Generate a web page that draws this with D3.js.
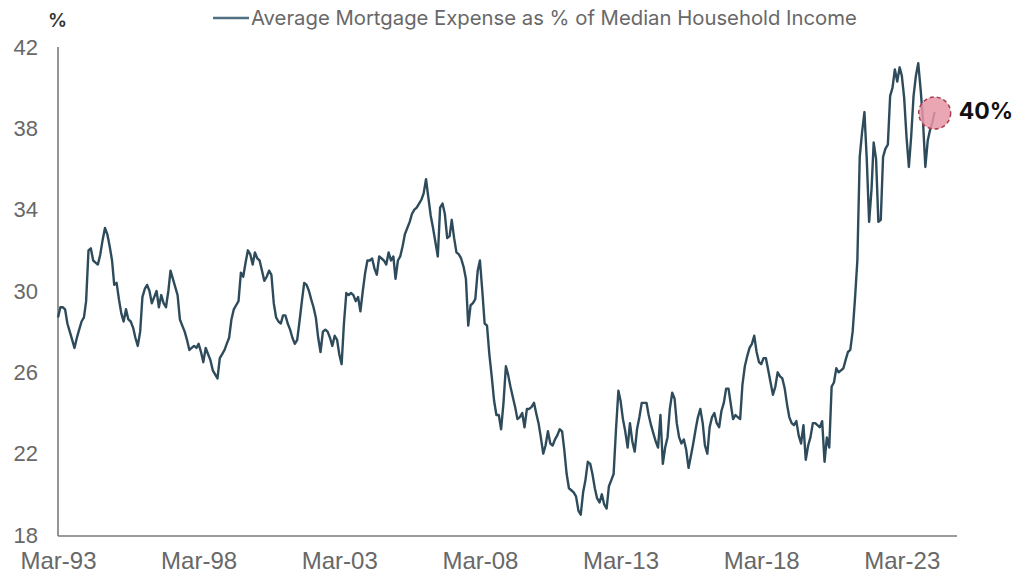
<!DOCTYPE html>
<html>
<head>
<meta charset="utf-8">
<script src="https://cdn.jsdelivr.net/npm/d3@7"></script>
<style>
  html, body { margin: 0; padding: 0; background: #fff; }
  svg { display: block; font-family: Inter, Roboto, "Noto Sans", sans-serif; }
</style>
</head>
<body>
<svg id="chart" width="1013" height="576"></svg>
<script>
// ---- Data (monthly, starting Mar-1993) ----
const seriesName = "Average Mortgage Expense as % of Median Household Income";
const startYear = 1993, startMonth = 2; // March (0-based)
const mortgageShare = [
  // 1993 Mar-Dec
  28.7, 29.2, 29.2, 29.1, 28.4, 28.0, 27.6, 27.2, 27.7, 28.1,
  // 1994
  28.5, 28.7, 29.5, 32.0, 32.1, 31.5, 31.4, 31.3, 31.8, 32.5, 33.1, 32.8,
  // 1995
  32.2, 31.5, 30.3, 30.4, 29.6, 28.9, 28.5, 29.1, 28.6, 28.5, 28.2, 27.7,
  // 1996
  27.3, 28.0, 29.7, 30.1, 30.3, 30.0, 29.4, 29.7, 30.0, 29.2, 29.8, 29.4,
  // 1997
  29.2, 30.0, 31.0, 30.6, 30.2, 29.8, 28.6, 28.3, 28.0, 27.6, 27.1, 27.2,
  // 1998
  27.3, 27.2, 27.4, 27.0, 26.5, 27.2, 26.9, 26.6, 26.1, 25.9, 25.7, 26.7,
  // 1999
  26.9, 27.1, 27.4, 27.7, 28.6, 29.1, 29.3, 29.5, 30.9, 30.7, 31.4, 32.0,
  // 2000
  31.8, 31.3, 31.9, 31.6, 31.5, 31.0, 30.5, 30.7, 31.0, 30.8, 29.4, 28.7,
  // 2001
  28.5, 28.4, 28.8, 28.8, 28.4, 28.1, 27.7, 27.4, 27.6, 28.5, 29.5, 30.4,
  // 2002
  30.3, 30.0, 29.6, 29.2, 28.7, 27.7, 27.0, 28.0, 28.1, 28.0, 27.7, 27.3,
  // 2003
  27.8, 27.6, 26.9, 26.4, 28.4, 29.9, 29.8, 29.9, 29.8, 29.5, 29.7, 29.0,
  // 2004
  30.0, 30.9, 31.5, 31.5, 31.6, 31.1, 30.8, 31.7, 31.6, 31.5, 31.3, 31.9,
  // 2005
  31.5, 31.7, 30.6, 31.5, 31.7, 32.2, 32.8, 33.1, 33.4, 33.8, 34.0, 34.1,
  // 2006
  34.3, 34.5, 34.8, 35.5, 34.6, 33.7, 33.1, 32.4, 31.7, 34.1, 34.3, 33.8,
  // 2007
  32.6, 32.7, 33.5, 32.6, 31.9, 31.8, 31.6, 31.2, 30.6, 28.3, 29.3, 29.4,
  // 2008
  29.6, 31.0, 31.5, 30.0, 28.4, 28.3, 26.9, 25.8, 24.6, 23.9, 23.9, 23.2,
  // 2009
  24.5, 26.3, 25.9, 25.3, 24.8, 24.3, 23.7, 23.8, 24.0, 23.3, 24.2, 24.2,
  // 2010
  24.3, 24.5, 24.0, 23.5, 22.8, 22.0, 22.4, 23.1, 22.5, 22.4, 22.7, 22.9,
  // 2011
  23.2, 23.1, 22.2, 21.0, 20.3, 20.2, 20.1, 19.9, 19.2, 19.0, 20.1, 20.7,
  // 2012
  21.6, 21.5, 21.0, 20.3, 19.8, 19.6, 20.0, 19.5, 19.3, 20.4, 20.7, 21.0,
  // 2013
  23.2, 25.1, 24.6, 23.7, 23.1, 22.3, 23.5, 22.6, 22.1, 23.2, 23.8, 24.5,
  // 2014
  24.5, 24.5, 23.9, 23.4, 23.0, 22.6, 22.3, 23.9, 21.5, 22.3, 22.8, 24.2,
  // 2015
  25.0, 24.7, 23.5, 22.8, 22.5, 22.7, 22.2, 21.3, 21.9, 22.5, 23.2, 23.8,
  // 2016
  24.2, 23.5, 22.4, 22.0, 23.3, 23.8, 24.0, 23.5, 23.3, 24.1, 24.5, 25.2,
  // 2017
  25.2, 24.4, 23.7, 23.9, 23.8, 23.7, 25.4, 26.3, 26.8, 27.2, 27.4, 27.8,
  // 2018
  27.0, 26.5, 26.4, 26.7, 26.7, 26.1, 25.5, 24.9, 25.3, 26.0, 25.8, 25.7,
  // 2019
  25.2, 24.4, 23.8, 23.5, 23.4, 23.6, 22.9, 22.5, 23.4, 21.7, 22.4, 22.8,
  // 2020
  23.5, 23.5, 23.4, 23.3, 23.6, 21.6, 22.8, 22.3, 25.3, 25.5, 26.2, 26.0,
  // 2021
  26.1, 26.2, 26.6, 27.0, 27.1, 28.0, 29.6, 31.5, 36.6, 37.8, 38.8, 36.5,
  // 2022
  33.4, 35.0, 37.3, 36.5, 33.4, 33.5, 36.6, 37.0, 37.2, 39.6, 40.0, 40.9,
  // 2023
  40.3, 41.0, 40.6, 39.5, 37.6, 36.1, 37.6, 39.6, 40.6, 41.2, 39.9, 38.4,
  // 2024 Jan-May
  36.1, 37.4, 37.9, 38.3, 38.8
];
const yTicks = [18, 22, 26, 30, 34, 38, 42];
const xTickYears = [1993, 1998, 2003, 2008, 2013, 2018, 2023];
const xTickLabels = ["Mar-93", "Mar-98", "Mar-03", "Mar-08", "Mar-13", "Mar-18", "Mar-23"];
const calloutLabel = "40%";
const unitLabel = "%";

// ---- Build ----
const data = mortgageShare.map((v, i) => ({ date: new Date(startYear, startMonth + i, 1), value: v }));

const svg = d3.select("#chart");
const plotLeft = 58, plotRight = 957, plotTop = 47, plotBottom = 535;

const x = d3.scaleTime()
  .domain([new Date(1993, 2, 1), new Date(2025, 1, 15)])
  .range([plotLeft, plotRight]);
const y = d3.scaleLinear().domain([18, 42]).range([plotBottom, plotTop]);

const axisColor = "#7a7a7a";
const textColor = "#686868";
const lineColor = "#2e4b5c";

// axes lines
svg.append("line").attr("x1", plotLeft).attr("x2", plotLeft).attr("y1", plotTop).attr("y2", plotBottom + 1)
  .attr("stroke", axisColor).attr("stroke-width", 1.6);
svg.append("line").attr("x1", plotLeft).attr("x2", plotRight).attr("y1", plotBottom + 1).attr("y2", plotBottom + 1)
  .attr("stroke", axisColor).attr("stroke-width", 1.6);

// y axis labels
const yAxis = d3.axisLeft(y).tickValues(yTicks).tickSize(0).tickPadding(20);
const gy = svg.append("g").attr("transform", `translate(${plotLeft},0)`).call(yAxis);
gy.select(".domain").remove();
gy.selectAll("text").attr("fill", textColor).style("font-size", "22px");

// x axis labels
const xTickDates = xTickYears.map(yr => new Date(yr, 2, 1));
const xAxis = d3.axisBottom(x).tickValues(xTickDates)
  .tickFormat((d, i) => xTickLabels[i]).tickSize(0).tickPadding(16);
const gx = svg.append("g").attr("transform", `translate(0,${plotBottom + 1})`).call(xAxis);
gx.select(".domain").remove();
gx.selectAll("text").attr("fill", textColor).style("font-size", "24px");

// unit label
svg.append("text").attr("x", plotLeft - 10).attr("y", 27).attr("fill", "#333")
  .style("font-size", "19px").style("font-weight", "600").text(unitLabel);

// legend
svg.append("line").attr("x1", 213).attr("x2", 249).attr("y1", 18).attr("y2", 18)
  .attr("stroke", "#4f7080").attr("stroke-width", 2.5);
svg.append("text").attr("x", 251).attr("y", 25).attr("fill", textColor)
  .style("font-size", "20.3px").text(seriesName);

// line
const line = d3.line().x(d => x(d.date)).y(d => y(d.value));
svg.append("path").datum(data).attr("d", line)
  .attr("fill", "none").attr("stroke", lineColor).attr("stroke-width", 2.4)
  .attr("stroke-linejoin", "round");

// callout
const last = data[data.length - 1];
svg.append("circle").attr("cx", x(last.date)).attr("cy", y(last.value) + 1).attr("r", 16)
  .attr("fill", "#e797a7").attr("fill-opacity", 0.85)
  .attr("stroke", "#a8404f").attr("stroke-width", 1.5).attr("stroke-dasharray", "4,3");
svg.append("text").attr("x", x(last.date) + 24).attr("y", y(last.value) + 1)
  .attr("dominant-baseline", "middle").attr("fill", "#111")
  .style("font-size", "23px").style("font-weight", "700").text(calloutLabel);
</script>
</body>
</html>
